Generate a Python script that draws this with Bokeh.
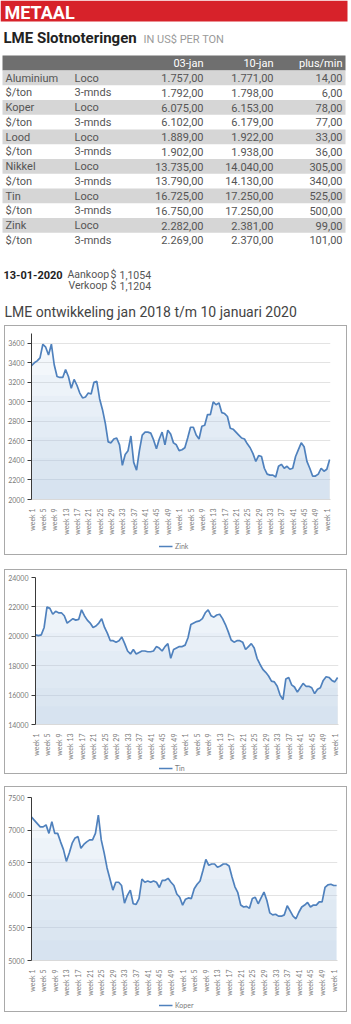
import numpy as np
from bokeh.plotting import figure
from bokeh.models import FixedTicker, Legend, LegendItem
from bokeh.core.properties import value
from bokeh.embed import file_html
from bokeh.resources import INLINE

# ---------------- data ----------------
row_names = ["Aluminium", "$/ton", "Koper", "$/ton", "Lood", "$/ton",
             "Nikkel", "$/ton", "Tin", "$/ton", "Zink", "$/ton"]
contracts = ["Loco", "3-mnds"] * 6
col_headers = ["03-jan", "10-jan", "plus/min"]
jan03 = [1757, 1792, 6075, 6102, 1889, 1902, 13735, 13790, 16725, 16750, 2282, 2269]
jan10 = [1771, 1798, 6153, 6179, 1922, 1938, 14040, 14130, 17250, 17250, 2381, 2370]
plusmin = [14, 6, 78, 77, 33, 36, 305, 340, 525, 500, 99, 101]

rate_date = "13-01-2020"
rate_labels = ["Aankoop", "Verkoop"]
rate_values = [1.1054, 1.1204]

week_ticks = [0, 4, 8, 12, 16, 20, 24, 28, 32, 36, 40, 44, 48,
              52, 56, 60, 64, 68, 72, 76, 80, 84, 88, 92, 96, 100, 104]
week_labels = ["week 1", "week 5", "week 9", "week 13", "week 17", "week 21", "week 25",
               "week 29", "week 33", "week 37", "week 41", "week 45", "week 49",
               "week 1", "week 5", "week 9", "week 13", "week 17", "week 21", "week 25",
               "week 29", "week 33", "week 37", "week 41", "week 45", "week 49", "week 1"]

zink = [3370, 3400, 3420, 3450, 3590, 3560, 3480, 3590, 3380, 3260,
        3250, 3250, 3330, 3260, 3140, 3230, 3170, 3090, 3040, 3050,
        3090, 3080, 3200, 3210, 3030, 2920, 2780, 2590, 2580, 2620,
        2630, 2560, 2350, 2460, 2500, 2650, 2380, 2300, 2500, 2660,
        2690, 2690, 2680, 2610, 2520, 2620, 2690, 2560, 2710, 2670,
        2580, 2560, 2500, 2510, 2530, 2630, 2740, 2740, 2660, 2620,
        2750, 2760, 2870, 2870, 3000, 2970, 2990, 2890, 2880, 2850,
        2730, 2720, 2690, 2660, 2630, 2620, 2570, 2530, 2470, 2390,
        2450, 2440, 2320, 2260, 2250, 2250, 2230, 2340, 2360, 2320,
        2340, 2310, 2320, 2440, 2510, 2580, 2540, 2390, 2320, 2240,
        2240, 2260, 2320, 2290, 2310, 2410]

tin = [20100, 20050, 20100, 20600, 22000, 21900, 21500, 21700, 21600, 21600,
       21400, 20900, 21050, 21200, 21100, 21150, 21800, 21400, 21100, 20900,
       20600, 20700, 20900, 21200, 20600, 20200, 19700, 19700, 19600, 19700,
       19950, 19500, 19000, 18800, 19100, 18800, 18900, 19000, 19000, 18950,
       18950, 19000, 19300, 19200, 19000, 19300, 19500, 18500, 19100, 19200,
       19300, 19300, 19400, 19900, 20800, 20900, 21000, 21050, 21200, 21600,
       21800, 21400, 21300, 21450, 21500, 21200, 20800, 20300, 19750, 19600,
       19700, 19700, 19600, 19100, 19300, 19500, 19200, 18500, 18100, 17750,
       17550, 17300, 16950, 16900, 16600, 16000, 15700, 17100, 17200, 16700,
       16550, 16200, 16500, 16800, 16600, 16600, 16500, 16100, 16400, 16500,
       17000, 17250, 17200, 17000, 16900, 17200]

koper = [7200, 7150, 7100, 7050, 7050, 7080, 6950, 7130, 6950, 6950,
         6820, 6700, 6520, 6650, 6800, 6880, 6900, 6720, 6780, 6820,
         6850, 6850, 6950, 7230, 6850, 6650, 6420, 6250, 6080, 6200,
         6200, 6150, 5880, 6000, 6080, 5870, 5860, 5950, 6250, 6200,
         6220, 6200, 6220, 6200, 6120, 6230, 6230, 6260, 6200, 6150,
         6020, 5970, 5850, 5940, 5960, 5950, 6100, 6170, 6220, 6380,
         6550, 6460, 6480, 6480, 6430, 6450, 6480, 6480, 6450, 6280,
         6130, 6040, 5850, 5820, 5830, 5800, 5950, 5970, 5870, 5960,
         6050, 5920, 5730, 5700, 5710, 5680, 5680, 5700, 5840, 5760,
         5680, 5640, 5740, 5820, 5850, 5890, 5820, 5850, 5850, 5900,
         5900, 6120, 6160, 6170, 6150, 6150]

# ---------------- styles ----------------
FONT = value("Roboto")
TXT = "#555555"
LINE_C = "#4f81bd"
BOX = "1px solid #a9a9a9"


def nl(v, d=2):
    s = f"{v:,.{d}f}"
    return s.replace(",", "#").replace(".", ",").replace("#", ".")


# ---------------- header / table ----------------
H0 = 323
hdr = figure(width=351, height=H0, x_range=(0, 351), y_range=(H0, 0),
             output_backend="svg", toolbar_location=None, min_border=0)
hdr.axis.visible = False
hdr.grid.visible = False
hdr.outline_line_color = None
hdr.background_fill_color = "white"

hdr.quad(left=[0], right=[347], top=[0], bottom=[21], fill_color="#d7222a", line_color=None)
hdr.text(x=[4], y=[11.5], text=["METAAL"], text_font=FONT, text_font_style="bold",
         text_font_size="18px", text_color="white", text_baseline="middle")
hdr.text(x=[3], y=[37.5], text=["LME Slotnoteringen"], text_font=FONT, text_font_style="bold",
         text_font_size="15px", text_color="#222222", text_baseline="middle")
hdr.text(x=[143], y=[38.5], text=["IN US$ PER TON"], text_font=FONT,
         text_font_size="11px", text_color="#9a9a9a", text_baseline="middle")

ROW0, RH = 70.0, 14.75
hdr.quad(left=[2], right=[345], top=[55], bottom=[ROW0], fill_color="#6f6f6f", line_color=None)
col_x = [203, 273, 342]
hdr.text(x=col_x, y=[62.5] * 3, text=col_headers, text_font=FONT, text_font_size="11px",
         text_color="white", text_baseline="middle", text_align="right")

n = len(row_names)
tops = [ROW0 + i * RH for i in range(n)]
gray_t = [t for i, t in enumerate(tops) if i % 2 == 0]
hdr.quad(left=2, right=345, top=gray_t, bottom=[t + RH for t in gray_t],
         fill_color="#d6d6d6", line_color=None)
mids = [t + RH / 2 + 0.3 for t in tops]
hdr.text(x=[5] * n, y=mids, text=row_names, text_font=FONT, text_font_size="11px",
         text_color=TXT, text_baseline="middle")
hdr.text(x=[74] * n, y=mids, text=contracts, text_font=FONT, text_font_size="11px",
         text_color=TXT, text_baseline="middle")
for cx, col in zip(col_x, [jan03, jan10, plusmin]):
    hdr.text(x=[cx] * n, y=mids, text=[nl(v) for v in col], text_font=FONT,
             text_font_size="11px", text_color=TXT, text_baseline="middle", text_align="right")

hdr.text(x=[3], y=[274], text=[rate_date], text_font=FONT, text_font_style="bold",
         text_font_size="11px", text_color="#222222", text_baseline="middle")
hdr.text(x=[67, 68], y=[274, 285], text=rate_labels, text_font=FONT, text_font_size="10.5px",
         text_color=TXT, text_baseline="middle")
hdr.text(x=[110, 110], y=[274, 285], text=["$", "$"], text_font=FONT, text_font_size="10.5px",
         text_color=TXT, text_baseline="middle")
hdr.text(x=[119, 119], y=[274, 285], text=[nl(v, 4) for v in rate_values], text_font=FONT,
         text_font_size="10.5px", text_color=TXT, text_baseline="middle")
hdr.text(x=[4], y=[311], text=["LME ontwikkeling jan 2018 t/m 10 januari 2020"], text_font=FONT,
         text_font_size="14px", text_color="#444444", text_baseline="middle")


# ---------------- charts ----------------
def make_chart(vals, ymin, ymax, ystep, ytop, height, left, right, top, bottom, mtop):
    p = figure(width=343, height=height, output_backend="svg", toolbar_location=None,
               x_range=(0, 105.3), y_range=(ymin, ytop),
               min_border_left=left, min_border_right=right,
               min_border_top=top, min_border_bottom=bottom)
    p.margin = (mtop, 0, 0, 4)
    p.styles = {"border": BOX, "border-bottom": "none"}
    p.outline_line_color = None
    p.background_fill_color = "white"
    p.border_fill_color = "white"
    x = np.arange(len(vals))
    y = np.array(vals, dtype=float)
    K = 8
    for j in range(1, K + 1):
        lvl = ymin + (ytop - ymin) * j / K
        p.varea(x=x, y1=ymin, y2=np.minimum(y, lvl), fill_color="#b0c6e0", fill_alpha=0.075)
    p.line(x, y, line_color=LINE_C, line_width=1.7)

    p.xgrid.visible = False
    p.ygrid.grid_line_color = "#e3e3e3"
    p.ygrid.ticker = FixedTicker(ticks=list(range(ymin, ymax + 1, ystep)))

    yax = p.yaxis[0]
    yax.ticker = FixedTicker(ticks=list(range(ymin, ymax + 1, ystep)))
    yax.axis_line_color = "#3a3a3a"
    yax.major_tick_line_color = "#3a3a3a"
    yax.major_tick_in = 0
    yax.major_tick_out = 4
    yax.minor_tick_line_color = None
    yax.major_label_text_font = "Lato"
    yax.major_label_text_font_size = "7px"
    yax.major_label_text_color = "#7a7a7a"
    yax.major_label_standoff = 3

    xax = p.xaxis[0]
    xax.ticker = FixedTicker(ticks=week_ticks)
    xax.major_label_overrides = {t: l for t, l in zip(week_ticks, week_labels)}
    xax.major_label_orientation = np.pi / 2
    xax.axis_line_color = "#d9d9d9"
    xax.major_tick_line_color = None
    xax.minor_tick_line_color = None
    xax.major_label_text_font = "Lato"
    xax.major_label_text_font_size = "7px"
    xax.major_label_text_color = "#7a7a7a"
    xax.major_label_standoff = 3
    return p


def make_legend(vals, name, height):
    # legend strip below the chart, inside the same box; its series line lies outside the
    # strip's visible range, so only the legend entry (line sample + label) is shown
    lf = figure(width=343, height=height, output_backend="svg", toolbar_location=None,
                x_range=(0, 1), y_range=(0, 1), min_border=0)
    lf.margin = (0, 0, 0, 4)
    lf.styles = {"border": BOX, "border-top": "none"}
    lf.axis.visible = False
    lf.grid.visible = False
    lf.outline_line_color = None
    r = lf.line(x=np.arange(len(vals)), y=np.array(vals, dtype=float),
                line_color=LINE_C, line_width=1.7)
    leg = Legend(items=[LegendItem(label=name, renderers=[r])], orientation="horizontal",
                 location="center", glyph_width=14, glyph_height=6, label_standoff=3,
                 label_height=8, label_text_font="Lato", label_text_font_size="7px",
                 label_text_color="#7a7a7a", padding=0, margin=0, spacing=0,
                 border_line_color=None, background_fill_alpha=0)
    lf.add_layout(leg)
    return lf


c1 = make_chart(zink, 2000, 3600, 200, 3700, 211, 24, 18, 7, 33, 2)
l1 = make_legend(zink, "Zink", 19)
c2 = make_chart(tin, 14000, 24000, 2000, 24000, 192, 29, 10, 7, 33, 14)
l2 = make_legend(tin, "Tin", 13)
c3 = make_chart(koper, 5000, 7500, 500, 7500, 211, 26, 11, 10, 33, 12)
l3 = make_legend(koper, "Koper", 15)

open("out.html", "w").write(file_html([hdr, c1, l1, c2, l2, c3, l3], INLINE))
